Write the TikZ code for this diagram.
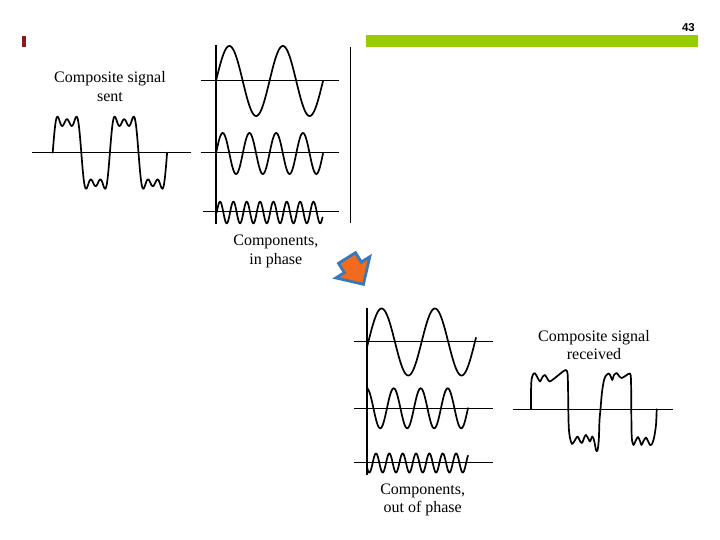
\documentclass[tikz,border=0pt]{standalone}
\usepackage{fontspec}
\setmainfont{Liberation Serif}
\newfontfamily\numfont{Liberation Sans}
\definecolor{barGreen}{HTML}{99CC00}
\definecolor{markRed}{HTML}{8B1A1A}
\definecolor{arrowOrange}{HTML}{F26A1B}
\definecolor{arrowBlue}{HTML}{3A78BC}
\tikzset{
  wave/.style={line width=1.7pt, line join=round, line cap=round},
  axisline/.style={line width=1.1pt},
  lbl/.style={inner sep=0pt, anchor=base, font=\fontsize{16}{19}\selectfont},
}
\begin{document}
\begin{tikzpicture}[x=1pt, y=-1pt]
\useasboundingbox (0,0) rectangle (720,540);
% header
\fill[markRed] (22,36) rectangle (26,47);
\fill[barGreen] (366,35) rectangle (698,46.7);
\node[inner sep=0pt, anchor=base east, font=\numfont\bfseries\fontsize{11.5}{13}\selectfont] (pg) at (695,32) {43};

% composite sent
\node[lbl] (sent1) at (110,82.7) {Composite signal};
\node[lbl] (sent2) at (110,101.7) {sent};
\draw[axisline] (32,152.7) -- (191,152.7);
\draw[wave] plot[domain=0:720, samples=360] ({52.7+\x*0.158889}, {152.7-38.6*(sin(\x)+sin(3*\x)/3+sin(5*\x)/5)});

% components in phase
\draw[axisline] (216,45) -- (216,224);
\draw[axisline] (350.5,47) -- (350.5,223);
\draw[axisline] (201,80.8) -- (339,80.8);
\draw[axisline] (201,152.7) -- (339,152.7);
\draw[axisline] (203,211.7) -- (339,211.7);
\draw[wave] plot[domain=216:323, samples=200] (\x, {81-35*sin((\x-216)*6.7290)});
\draw[wave] plot[domain=216:323, samples=200] (\x, {153.5-20.5*sin((\x-216)*13.4579)});
\draw[wave] plot[domain=216.7:322.5, samples=300] (\x, {212.5-10.8*sin((\x-216.7)*26.9663)});
\node[lbl] (inph1) at (275.8,245.5) {Components,};
\node[lbl] (inph2) at (275.8,264.5) {in phase};

% arrow
\begin{scope}[shift={(347,258)}, rotate=-58]
\filldraw[fill=arrowOrange, draw=arrowBlue, line width=2.8pt, line join=miter]
  (0,10) -- (11,10) -- (11,20) -- (31,0) -- (11,-20) -- (11,-10) -- (0,-10) -- cycle;
\end{scope}

% components out of phase
\draw[axisline] (367,308) -- (367,475);
\draw[axisline] (354,341.7) -- (493,341.7);
\draw[axisline] (354,408.3) -- (493,408.3);
\draw[axisline] (354,462.7) -- (493,462.7);
\draw[wave] plot[domain=366.7:476, samples=200] (\x, {342-33.5*sin((\x-368.3)*6.7542)});
\draw[wave] plot[domain=366.7:468, samples=200] (\x, {408.3-20*cos((\x-366.7)*13.3333)});
\draw[wave] plot[domain=367:468, samples=300] (\x, {463-9.5*cos((\x-376)*26.9663)});
\node[lbl] (outph1) at (422.7,494.5) {Components,};
\node[lbl] (outph2) at (422.7,512) {out of phase};

% composite received
\node[lbl] (rec1) at (594,341.7) {Composite signal};
\node[lbl] (rec2) at (594,359.3) {received};
\draw[axisline] (513.3,409.3) -- (673.3,409.3);
\draw[wave] plot[smooth, tension=0.45] coordinates {
 (531,409.3) (531,392) (531.5,380) (533,374.5) (535,373.3) (537.5,377.5) (540,381.5)
 (542.5,377) (545,375) (547.5,379) (549.5,381.5) (553,379.5) (558,375.5) (563,371.5)
 (566,370) (567.5,373) (568,385) (568.3,409) (568.8,428) (570,438) (572,444)
 (574.5,441) (577.5,436.5) (580,441) (582,443) (584.5,437) (586,435) (588.5,439)
 (590,441.5) (592.3,436.5) (594,440) (596,450) (597.5,450.5) (598.8,440) (599.5,420)
 (600.5,409) (602,392) (604,380) (606,375.5) (609,373.5) (611,377) (612.3,380)
 (614,375) (616.7,373) (619,376) (621.7,378) (626,375.5) (630,373.5) (631,380)
 (631.3,409) (631.5,430) (632,440) (633.5,445) (636,440) (638,437) (640,441)
 (641.5,445) (643.5,441) (646,437.5) (648,441) (650,445) (652,444) (654,438)
 (656,425) (656.7,409.3)};
\end{tikzpicture}
\end{document}
